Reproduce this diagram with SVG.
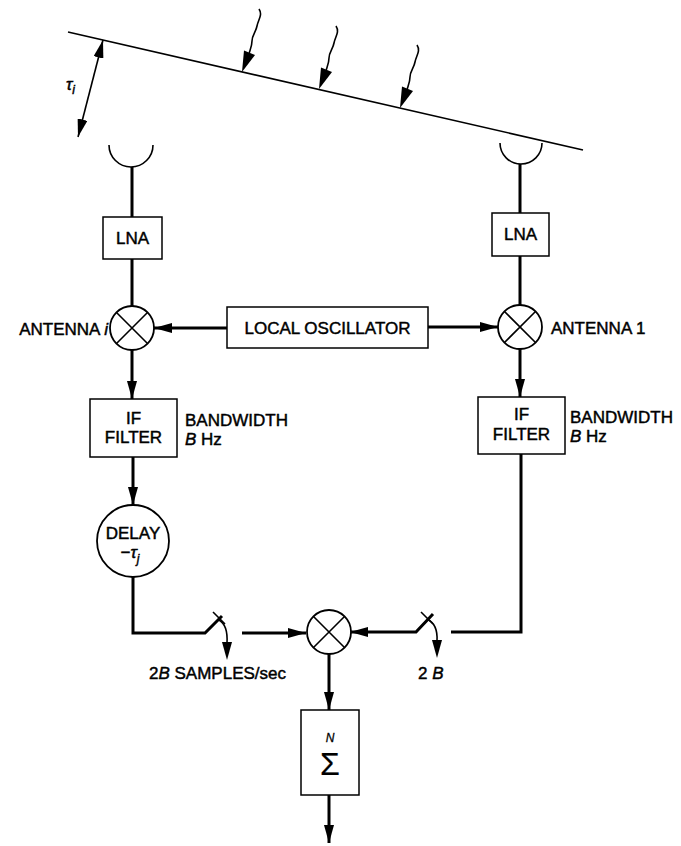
<svg xmlns="http://www.w3.org/2000/svg" width="681" height="846" viewBox="0 0 681 846">
<defs>
<style>
.box{fill:#fff;stroke:#000;stroke-width:1.5}
.circ{fill:#fff;stroke:#000;stroke-width:1.8}
.thin{fill:none;stroke:#000;stroke-width:1.6}
.wire{fill:none;stroke:#000;stroke-width:3}
.t{font-family:"Liberation Sans",Arial,sans-serif;font-size:17px;fill:#000;stroke:#000;stroke-width:0.45}
.c{text-anchor:middle}
.i{font-style:italic}
.sub{font-size:12px}
</style>
<marker id="ah" markerUnits="userSpaceOnUse" markerWidth="18" markerHeight="10" refX="18" refY="5" orient="auto">
<path d="M0,0 L18,5 L0,10 z" fill="#000"/>
</marker>
<marker id="ahs" markerUnits="userSpaceOnUse" markerWidth="18" markerHeight="10" refX="18" refY="5" orient="auto-start-reverse">
<path d="M0,0 L18,5 L0,10 z" fill="#000"/>
</marker>
<g id="wavy">
<path d="M17,-63 C21,-57 16,-52 15,-46 C14,-40 10,-37 10,-31 C10,-26 8,-22 7,-18" class="thin"/>
<polygon points="0,0 13,-17 2,-21.5" fill="#000"/>
</g>
<g id="mix">
<circle r="22" class="circ"/>
<path d="M-15.5,-15.5 L15.5,15.5 M-15.5,15.5 L15.5,-15.5" class="thin" stroke-width="1.8"/>
</g>
</defs>
<rect width="681" height="846" fill="#fff"/>

<g id="wavefront">
<line x1="68" y1="32" x2="583" y2="150" class="thin" stroke-width="2"/>
<use href="#wavy" x="242" y="72"/>
<use href="#wavy" x="319" y="89"/>
<use href="#wavy" x="400" y="108"/>
<line x1="103" y1="40" x2="78" y2="137" class="thin" marker-start="url(#ahs)" marker-end="url(#ah)"/>
<text x="66" y="90" class="t i">τ<tspan dy="4" class="sub">i</tspan></text>
</g>

<g id="connectors">
<path d="M132,167 V217 M132,259 V306" class="wire"/>
<path d="M520,164 V213 M520,256 V305" class="wire"/>
<line x1="227" y1="328" x2="154" y2="328" class="wire" marker-end="url(#ah)"/>
<line x1="428" y1="327" x2="498" y2="327" class="wire" marker-end="url(#ah)"/>
<line x1="132" y1="350" x2="132" y2="399" class="wire" marker-end="url(#ah)"/>
<line x1="520" y1="349" x2="520" y2="397" class="wire" marker-end="url(#ah)"/>
<line x1="133" y1="457" x2="133" y2="505" class="wire" marker-end="url(#ah)"/>
<path d="M133,577 V633 H205 L222,616" class="wire"/>
<path d="M213,612 L225,624" class="thin"/>
<path d="M219,620 Q228,625 227,643" class="thin"/>
<polygon points="227,660 222,642 232,642" fill="#000"/>
<line x1="242" y1="633" x2="306" y2="633" class="wire" marker-end="url(#ah)"/>
<path d="M521,454 V632 H451" class="wire"/>
<path d="M433,614 L416,632 H350" class="wire" marker-end="url(#ah)"/>
<path d="M421,612 L433,624" class="thin"/>
<path d="M427,619 Q438,624 437,641" class="thin"/>
<polygon points="437,658 432,640 442,640" fill="#000"/>
<line x1="329" y1="654" x2="329" y2="710" class="wire" marker-end="url(#ah)"/>
<line x1="329" y1="795" x2="329" y2="843" class="wire" marker-end="url(#ah)"/>
</g>

<g id="antenna-i-dish"><path d="M109,145 A22,22 0 0 0 153,145" class="thin" stroke-width="2"/></g>
<g id="antenna-1-dish"><path d="M500,143 A21,21 0 0 0 542,143" class="thin" stroke-width="2"/></g>

<g id="lna-i"><rect x="103" y="217" width="59" height="42" class="box"/><text x="132.5" y="244" class="t c">LNA</text></g>
<g id="lna-1"><rect x="492" y="213" width="57" height="43" class="box"/><text x="520.5" y="240" class="t c">LNA</text></g>

<g id="mixer-i"><use href="#mix" x="132" y="328"/><text x="108" y="335" class="t" text-anchor="end">ANTENNA <tspan class="i">i</tspan></text></g>
<g id="mixer-1"><use href="#mix" x="520" y="327"/><text x="551" y="334" class="t">ANTENNA 1</text></g>

<g id="local-oscillator"><rect x="227" y="307" width="201" height="41" class="box"/><text x="327.5" y="334" class="t c">LOCAL OSCILLATOR</text></g>

<g id="if-filter-i">
<rect x="90" y="399" width="87" height="58" class="box"/>
<text x="133.5" y="424" class="t c">IF</text>
<text x="133.5" y="443" class="t c">FILTER</text>
<text x="185" y="426" class="t">BANDWIDTH</text>
<text x="185" y="445" class="t"><tspan class="i">B</tspan> Hz</text>
</g>
<g id="if-filter-1">
<rect x="478" y="397" width="87" height="57" class="box"/>
<text x="521.5" y="420" class="t c">IF</text>
<text x="521.5" y="440" class="t c">FILTER</text>
<text x="570" y="423" class="t">BANDWIDTH</text>
<text x="570" y="442" class="t"><tspan class="i">B</tspan> Hz</text>
</g>

<g id="delay">
<circle cx="133" cy="541" r="36" class="circ"/>
<text x="133" y="539" class="t c">DELAY</text>
<text x="130" y="558" class="t c">−<tspan class="i">τ</tspan><tspan class="i sub" dy="5">j</tspan></text>
</g>

<g id="correlator"><use href="#mix" x="329" y="632"/></g>

<g id="sum">
<rect x="301" y="710" width="58" height="85" class="box"/>
<text x="330" y="742" class="t c i" style="font-size:12px;stroke-width:0.3">N</text>
<text x="330" y="775" class="t c" style="font-size:32px;stroke-width:0.2">Σ</text>
</g>

<g id="labels">
<text x="149" y="679" class="t">2<tspan class="i">B</tspan> SAMPLES/sec</text>
<text x="418" y="679" class="t">2 <tspan class="i">B</tspan></text>
</g>
</svg>
